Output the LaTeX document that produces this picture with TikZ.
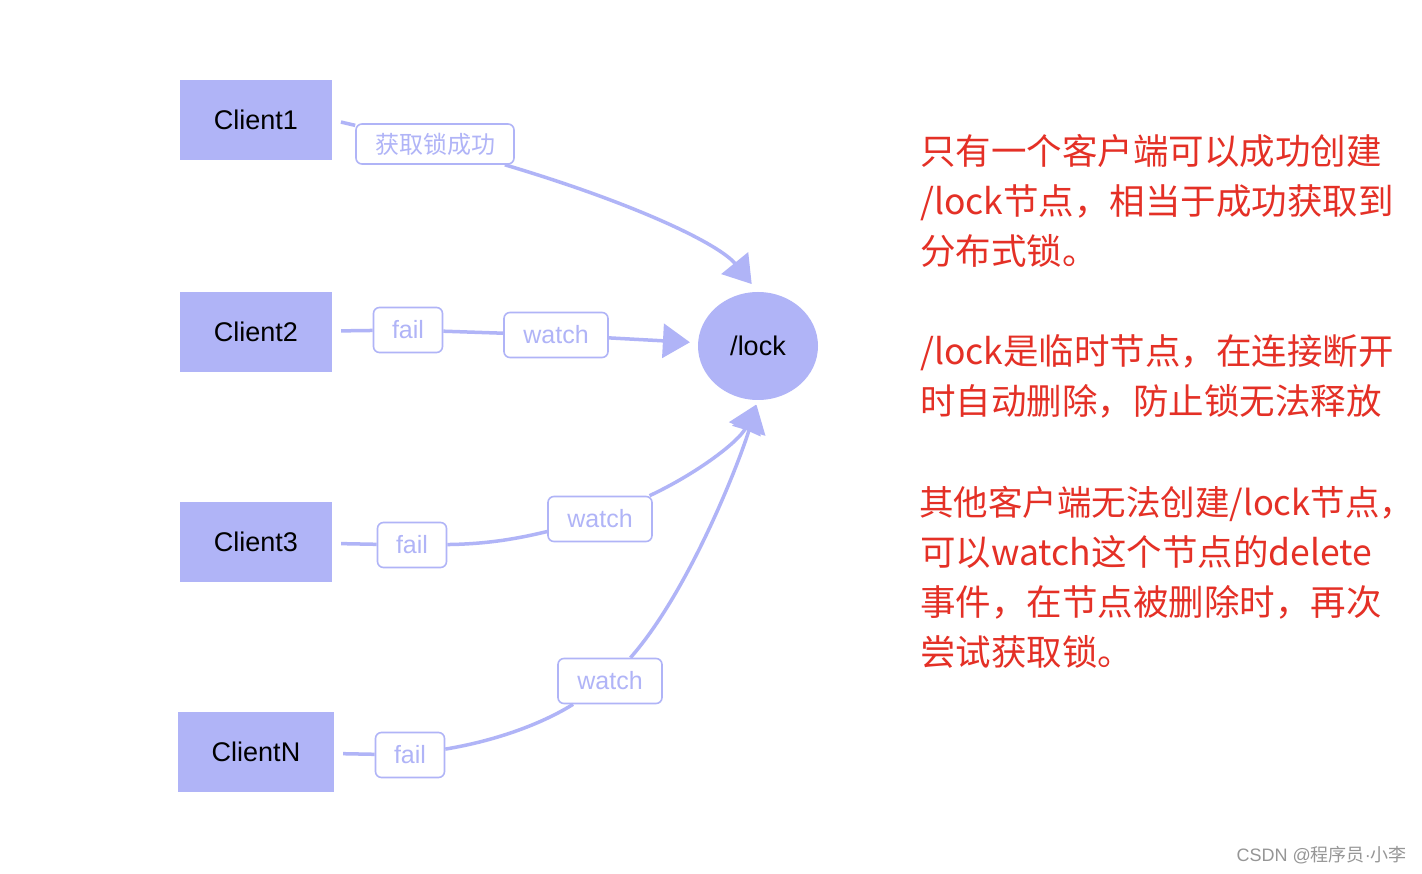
\documentclass[tikz,border=0pt]{standalone}
\usepackage{fontspec}
\setmainfont{Liberation Sans}
\newfontfamily\cjk{Noto Sans CJK SC}
\usetikzlibrary{arrows.meta,shapes.geometric}
\definecolor{peri}{RGB}{176,180,247}
\definecolor{redtxt}{RGB}{228,48,38}
\definecolor{wmgray}{RGB}{150,150,150}
\begin{document}
\begin{tikzpicture}[x=1pt,y=-1pt,
 client/.style={rectangle,fill=peri,minimum width=152pt,minimum height=80pt,inner sep=0pt,font=\fontsize{27}{30}\selectfont},
 lbl/.style={rectangle,draw=peri,line width=1.6pt,rounded corners=6pt,fill=white,text=peri,inner sep=0pt,minimum height=45pt,font=\fontsize{25}{28}\selectfont},
 conn/.style={draw=peri,line width=3.5pt},
 arr/.style={conn,-{Triangle[length=27pt,width=34pt]}},
 note/.style={text=redtxt,anchor=base west,inner sep=0pt,font=\cjk\fontsize{35.5}{40}\selectfont}]
\fill[white] (0,0) rectangle (1422,874);
\useasboundingbox (0,0) rectangle (1422,874);
% clients
\node[client] (c1) at (256,120) {Client1};
\node[client] (c2) at (256,332) {Client2};
\node[client] (c3) at (256,542) {Client3};
\node[client,minimum width=156pt] (cN) at (256,752) {ClientN};
\node[ellipse,fill=peri,minimum width=120pt,minimum height=108pt,inner sep=0pt,font=\fontsize{27}{30}\selectfont] (lock) at (758,346) {/lock};
% labels
\node[lbl,minimum width=158pt,minimum height=40pt,font=\cjk\fontsize{24}{26}\selectfont] (s1) at (435,144) {获取锁成功};
\node[lbl,minimum width=69pt] (f2) at (408,330) {fail};
\node[lbl,minimum width=104pt] (w2) at (556,335) {watch};
\node[lbl,minimum width=69pt] (f3) at (412,545) {fail};
\node[lbl,minimum width=104pt] (w3) at (600,519) {watch};
\node[lbl,minimum width=69pt] (fN) at (410,755) {fail};
\node[lbl,minimum width=104pt] (wN) at (610,681) {watch};
% connectors
\draw[conn,shorten <=9pt] (c1.east) -- (s1);
\draw[arr,shorten >=10pt] (s1) .. controls (640,205) and (720,245) .. (lock.north);
\draw[conn,shorten <=9pt] (c2) -- (f2);
\draw[conn] (f2) -- (w2);
\draw[arr,shorten >=8pt] (w2) -- (lock);
\draw[conn,shorten <=9pt] (c3) -- (f3);
\draw[conn] (f3) .. controls (490,544) and (520,538) .. (w3);
\draw[arr,shorten >=5pt] (w3) .. controls (700,472) and (740,440) .. (lock.south);
\draw[conn,shorten <=9pt] (cN) -- (fN);
\draw[conn] (fN) .. controls (500,740) and (545,722) .. (wN);
\draw[arr,shorten >=5pt] (wN) .. controls (690,590) and (740,460) .. (lock.south);
% notes
\node[note] (t1) at (920,165) {只有一个客户端可以成功创建};
\node[note] (t2) at (920,215) {/lock节点，相当于成功获取到};
\node[note] (t3) at (920,265) {分布式锁。};
\node[note] (t4) at (920,365) {/lock是临时节点，在连接断开};
\node[note] (t5) at (920,415) {时自动删除，防止锁无法释放};
\node[note,font=\cjk\fontsize{34.5}{40}\selectfont] (t6) at (919,515) {其他客户端无法创建/lock节点，};
\node[note] (t7) at (920,565) {可以watch这个节点的delete};
\node[note] (t8) at (920,615) {事件，在节点被删除时，再次};
\node[note] (t9) at (920,665) {尝试获取锁。};
\node[anchor=east,text=wmgray,inner sep=0pt,font=\fontsize{18}{20}\selectfont] (wm) at (1407,855) {CSDN @{\cjk 程序员}·{\cjk 小李}};
\end{tikzpicture}
\end{document}
